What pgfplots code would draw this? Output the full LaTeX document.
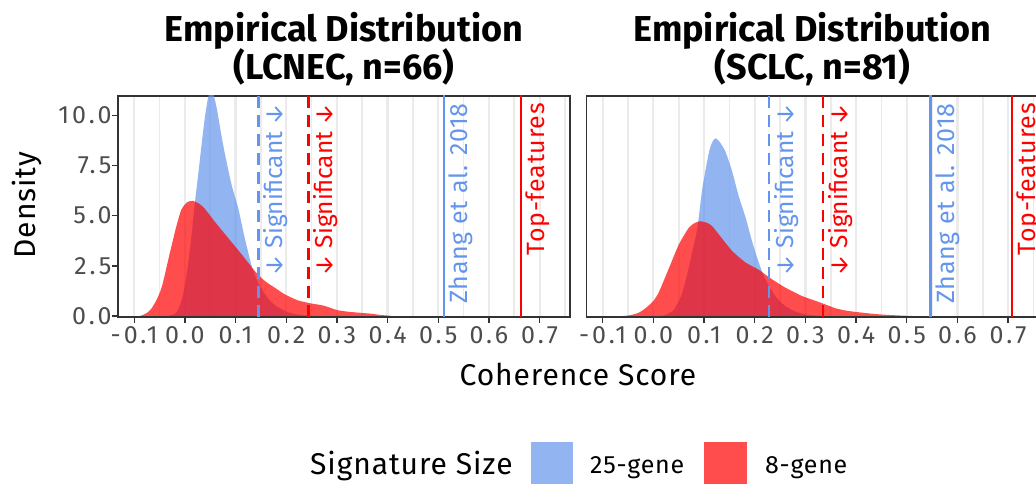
\documentclass[border=0pt]{standalone}
\usepackage{fontspec}
\setmainfont{Fira Sans}
\newfontfamily\tickfont[LetterSpace=12]{Fira Sans}
\newfontfamily\txtfont[LetterSpace=3]{Fira Sans}
\usepackage{pgfplots}
\pgfplotsset{compat=1.18}
\definecolor{cfblue}{HTML}{6495ED}
\definecolor{ggred}{HTML}{FF0000}
\definecolor{gridc}{HTML}{EBEBEB}
\definecolor{axc}{HTML}{333333}
\definecolor{tickc}{HTML}{4D4D4D}

\pgfplotsset{
 panel/.style={
  scale only axis, width=452pt, height=221pt,
  xmin=-0.132, xmax=0.76, ymin=-0.05, ymax=10.96,
  anchor=south west,
  axis line style={draw=axc, line width=1.4pt},
  xtick={-0.1,0,0.1,0.2,0.3,0.4,0.5,0.6,0.7},
  xticklabels={-0.1,0.0,0.1,0.2,0.3,0.4,0.5,0.6,0.7},
  minor xtick={-0.05,0.05,0.15,0.25,0.35,0.45,0.55,0.65,0.75},
  xmajorgrids, xminorgrids,
  major grid style={draw=gridc, line width=2.2pt},
  minor grid style={draw=gridc, line width=1.6pt},
  tick align=outside, xtick pos=bottom, ytick pos=left,
  major tick length=6pt, minor tick length=0pt,
  tick style={draw=axc, line width=1.4pt},
  tick label style={font=\tickfont\fontsize{25}{29}\selectfont, text=tickc},
  clip=true,
 },
 dens/.style={draw=none, fill=#1, fill opacity=0.7, smooth, tension=0.4},
}
\tikzset{
 vlab/.style={rotate=90, anchor=north east, inner sep=0pt, text=#1, font=\txtfont\fontsize{25}{29}\selectfont},
 slab/.style={rotate=90, anchor=north east, inner sep=0pt, text=#1, font=\fontsize{24.5}{29}\selectfont},
}

\begin{document}
\begin{tikzpicture}[x=1pt,y=1pt]
\useasboundingbox (0,0) rectangle (1036,484);
\clip (0,0) rectangle (1036,484);

% ---------------- Left panel: LCNEC ----------------
\begin{axis}[panel, at={(118pt,167pt)},
  ytick={0,2.5,5,7.5,10}, yticklabels={0.0,2.5,5.0,7.5,10.0},
  yticklabel style={xshift=3pt}]
\addplot[dens=cfblue] coordinates {
(-0.035,0) (-0.02,0.1) (-0.01,0.5) (0.0,1.5) (0.01,3.3) (0.02,5.7) (0.027,7.2)
(0.033,8.55) (0.04,10.0) (0.046,10.9) (0.052,11.3) (0.058,10.9) (0.064,10.2)
(0.07,9.3) (0.078,8.2) (0.092,6.55) (0.105,5.4) (0.118,3.9) (0.131,2.57)
(0.14,1.9) (0.15,1.4) (0.165,0.85) (0.18,0.5) (0.2,0.22) (0.22,0.08) (0.24,0.02) (0.26,0)
} \closedcycle;
\addplot[dens=ggred] coordinates {
(-0.09,0) (-0.085,0.03) (-0.075,0.15) (-0.066,0.37) (-0.055,0.85) (-0.045,1.5)
(-0.031,3.0) (-0.018,4.35) (-0.007,5.3) (0.005,5.68) (0.016,5.73) (0.028,5.6)
(0.039,5.35) (0.059,4.7) (0.085,3.9) (0.112,3.07) (0.138,2.24) (0.158,1.74)
(0.178,1.4) (0.197,1.08) (0.223,0.78) (0.25,0.62) (0.265,0.56) (0.276,0.5) (0.29,0.38)
(0.303,0.28) (0.327,0.2) (0.365,0.12) (0.38,0.07) (0.396,0.03) (0.41,0)
} \closedcycle;
\addplot[cfblue, line width=2.4pt, dash pattern=on 12pt off 7pt] coordinates {(0.145,-1) (0.145,12)};
\addplot[ggred, line width=2.4pt, dash pattern=on 12pt off 7pt] coordinates {(0.244,-1) (0.244,12)};
\addplot[cfblue, line width=2.2pt] coordinates {(0.511,-1) (0.511,12)};
\addplot[ggred, line width=2.2pt] coordinates {(0.663,-1) (0.663,12)};
\node[slab=cfblue] at (axis cs:0.155,10.61) {↓ Significant ↓};
\node[slab=ggred] at (axis cs:0.254,10.61) {↓ Significant ↓};
\node[vlab=cfblue] at (axis cs:0.521,10.61) {Zhang et al. 2018};
\node[vlab=ggred] at (axis cs:0.673,10.61) {Top-features};
\end{axis}

% ---------------- Right panel: SCLC ----------------
\begin{axis}[panel, at={(586.5pt,167pt)}, ytick=\empty]
\addplot[dens=cfblue] coordinates {
(0.0,0) (0.02,0.02) (0.04,0.3) (0.055,1.0) (0.065,1.9) (0.075,3.0) (0.0866,4.35)
(0.0965,6.35) (0.11,8.2) (0.117,8.7) (0.1227,8.85) (0.13,8.7) (0.142,8.2)
(0.1555,7.2) (0.168,6.0) (0.182,4.9) (0.195,3.7) (0.208,2.66) (0.218,2.0)
(0.23,1.4) (0.245,0.85) (0.26,0.5) (0.28,0.22) (0.3,0.08) (0.32,0.02) (0.34,0)
} \closedcycle;
\addplot[dens=ggred] coordinates {
(-0.06,0) (-0.048,0.03) (-0.03,0.15) (-0.015,0.4) (0.0,0.75) (0.011,1.2)
(0.031,2.4) (0.05,3.55) (0.07,4.4) (0.083,4.65) (0.093,4.72) (0.105,4.65)
(0.115,4.5) (0.129,4.07) (0.142,3.65) (0.155,3.25) (0.168,2.95) (0.182,2.66)
(0.195,2.48) (0.208,2.3) (0.22,2.08) (0.234,1.83) (0.26,1.42) (0.293,1.0)
(0.326,0.7) (0.345,0.52) (0.36,0.38) (0.38,0.27) (0.4,0.2) (0.425,0.13)
(0.446,0.08) (0.47,0.045) (0.49,0.02) (0.51,0)
} \closedcycle;
\addplot[cfblue, line width=2.4pt, dash pattern=on 12pt off 7pt] coordinates {(0.228,-1) (0.228,12)};
\addplot[ggred, line width=2.4pt, dash pattern=on 12pt off 7pt] coordinates {(0.335,-1) (0.335,12)};
\addplot[cfblue, line width=2.2pt] coordinates {(0.547,-1) (0.547,12)};
\addplot[ggred, line width=2.2pt] coordinates {(0.707,-1) (0.707,12)};
\node[slab=cfblue] at (axis cs:0.238,10.61) {↓ Significant ↓};
\node[slab=ggred] at (axis cs:0.345,10.61) {↓ Significant ↓};
\node[vlab=cfblue] at (axis cs:0.557,10.61) {Zhang et al. 2018};
\node[vlab=ggred] at (axis cs:0.717,10.61) {Top-features};
\end{axis}

% ---------------- Titles and labels ----------------
\node[anchor=base, font=\fontsize{36}{40}\selectfont\bfseries] at (344,442.3) {Empirical Distribution};
\node[anchor=base, font=\fontsize{36}{40}\selectfont\bfseries] at (344,404) {(LCNEC, n=66)};
\node[anchor=base, font=\fontsize{36}{40}\selectfont\bfseries] at (812.5,442.3) {Empirical Distribution};
\node[anchor=base, font=\fontsize{36}{40}\selectfont\bfseries] at (812.5,404) {(SCLC, n=81)};
\node[rotate=90, inner sep=0pt, font=\txtfont\fontsize{30}{34}\selectfont] at (26.5,279) {Density};
\node[anchor=base, inner sep=0pt, font=\txtfont\fontsize{30}{34}\selectfont] at (578,98) {Coherence Score};

% ---------------- Legend ----------------
\node[anchor=base west, inner sep=0pt, font=\txtfont\fontsize{30}{34}\selectfont] at (310,9) {Signature Size};
\fill[cfblue, fill opacity=0.7] (531,-2) rectangle (573,42);
\node[anchor=base west, inner sep=0pt, font=\txtfont\fontsize{25}{29}\selectfont] at (590,10.7) {25-gene};
\fill[ggred, fill opacity=0.7] (704,-2) rectangle (747,42);
\node[anchor=base west, inner sep=0pt, font=\txtfont\fontsize{25}{29}\selectfont] at (765,10.7) {8-gene};
\end{tikzpicture}
\end{document}
